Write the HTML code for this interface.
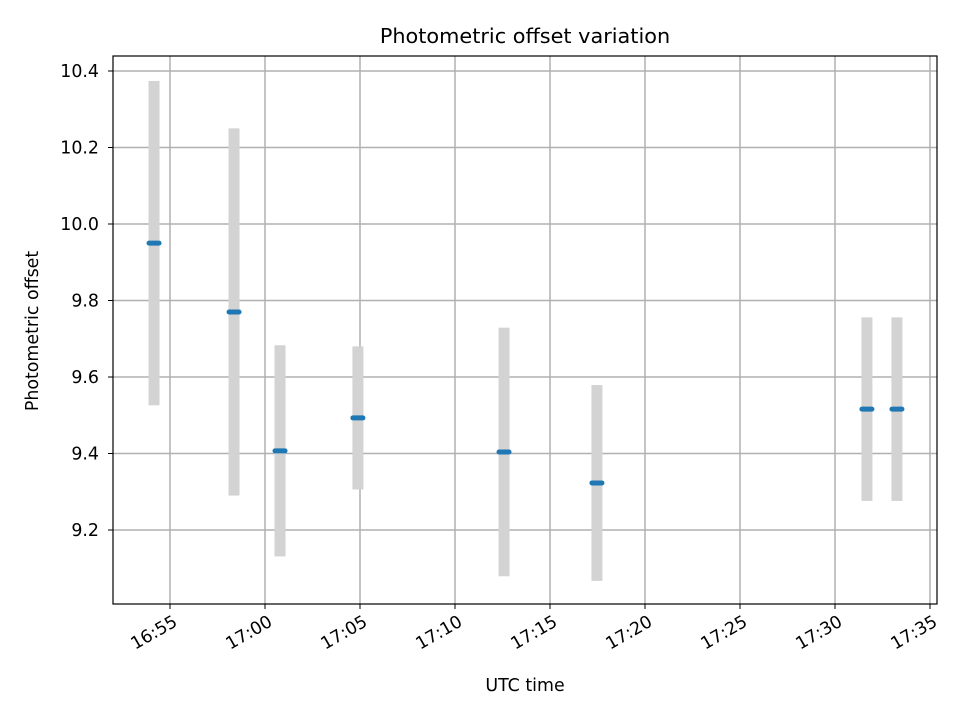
<!DOCTYPE html>
<html><head><meta charset="utf-8"><style>
body{margin:0;background:#fff;}
svg{display:block;font-family:"DejaVu Sans","Liberation Sans",sans-serif;}
</style></head><body>
<svg id="chart" width="960" height="720" viewBox="0 0 960 720" xmlns="http://www.w3.org/2000/svg"></svg>
<script>
const timesMin = [-0.84, 3.37, 5.79, 9.89, 17.58, 22.47, 36.68, 38.26]; // minutes after 16:55
const offsets = [9.95, 9.77, 9.407, 9.493, 9.404, 9.323, 9.516, 9.516];
const errors = [0.424, 0.48, 0.276, 0.187, 0.325, 0.256, 0.24, 0.24];
const yTicks = [9.2, 9.4, 9.6, 9.8, 10.0, 10.2, 10.4];
const xTicksMin = [0, 5, 10, 15, 20, 25, 30, 35, 40];
const xTickLabels = ["16:55","17:00","17:05","17:10","17:15","17:20","17:25","17:30","17:35"];

const NS="http://www.w3.org/2000/svg";
const svg=document.getElementById('chart');
const L=113,R=937,T=56,B=604;
const xs=m=>170+m*19;
const ys=v=>71+(10.4-v)*382.5;
function mk(tag,attrs,parent){const e=document.createElementNS(NS,tag);for(const k in attrs)e.setAttribute(k,attrs[k]);(parent||svg).appendChild(e);return e;}

const grid=mk('g',{});


xTicksMin.forEach((m,i)=>{
  const x=xs(m);
  const gl=mk('line',{x1:x,x2:x,y1:T,y2:B,stroke:'#b0b0b0','stroke-width':1.5},grid);
  
  
  const tk=mk('line',{x1:x,x2:x,y1:B,y2:B+5,stroke:'#000','stroke-width':1});
  
  
  const t=mk('text',{x:x+1,y:B+8,'font-size':17.4,'text-anchor':'end',transform:`rotate(-30 ${x+1} ${B+8})`,'dominant-baseline':'text-before-edge'});
  t.textContent=xTickLabels[i];
  
  
});
yTicks.forEach(v=>{
  const y=ys(v);
  const gl=mk('line',{x1:L,x2:R,y1:y,y2:y,stroke:'#b0b0b0','stroke-width':1.5},grid);
  
  
  const tk=mk('line',{x1:L-5,x2:L,y1:y,y2:y,stroke:'#000','stroke-width':1});
  
  
  const t=mk('text',{x:L-14,y:y+6,'font-size':17.4,'text-anchor':'end'});
  t.textContent=v.toFixed(1);
  
  
});
timesMin.forEach((m,i)=>{
  const x=xs(m);
  const eb=mk('rect',{x:x-5.5,y:ys(offsets[i]+errors[i]),width:11,height:ys(offsets[i]-errors[i])-ys(offsets[i]+errors[i]),fill:'#d3d3d3'});
  
  
});
timesMin.forEach((m,i)=>{
  const x=xs(m),y=ys(offsets[i]);
  const p=mk('line',{x1:x-5,x2:x+5,y1:y,y2:y,stroke:'#1f77b4','stroke-width':5,'stroke-linecap':'round'});
  
  
});
const frame=mk('rect',{x:L,y:T,width:R-L,height:B-T,fill:'none',stroke:'#000','stroke-width':1.2});


const title=mk('text',{x:(L+R)/2,y:43,'font-size':20.8,'text-anchor':'middle'});
title.textContent='Photometric offset variation';


const xt=mk('text',{x:(L+R)/2,y:691,'font-size':17.4,'text-anchor':'middle'});
xt.textContent='UTC time';


const yt=mk('text',{x:38,y:331,'font-size':17.4,'text-anchor':'middle',transform:'rotate(-90 38 331)'});
yt.textContent='Photometric offset';


</script>
</body></html>
